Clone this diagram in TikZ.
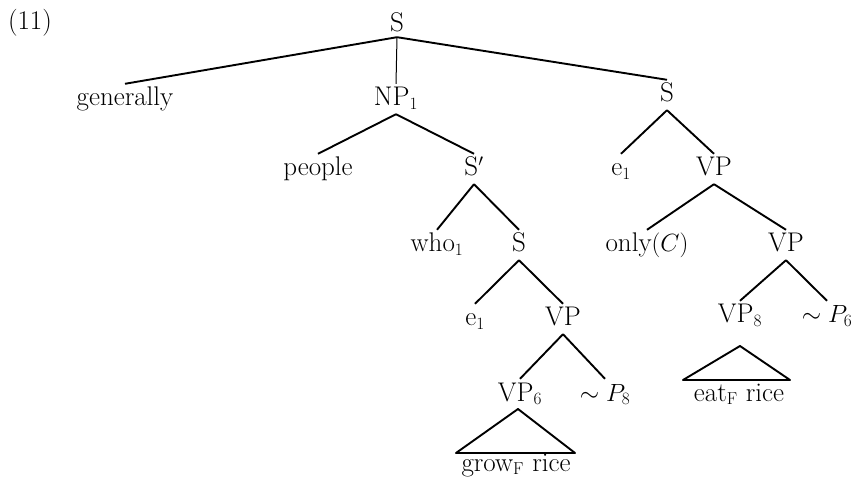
\documentclass[tikz,border=0pt]{standalone}
\usetikzlibrary{calc}
\begin{document}
\begin{tikzpicture}[x=1pt,y=-1pt,
  font=\fontsize{27}{32}\selectfont,
  tn/.style={anchor=base, inner sep=0pt, text height=22pt, text depth=8pt},
  br/.style={line width=1.9pt},
  thinbr/.style={line width=1pt}]
\useasboundingbox (0,0) rectangle (857,478);
% labels
\node[anchor=base, inner sep=0pt] (num) at (30,30) {(11)};
\node[tn, text depth=5pt] (s0) at (397,32) {S};
\node[tn] (gen) at (125,106) {generally};
\node[tn] (np) at (396,106) {NP$_1$};
\node[tn] (sr) at (667,102) {S};
\node[tn] (people) at (318,176) {people};
\node[tn] (sbar) at (474,176) {S$'$};
\node[tn] (e1r) at (621,176) {e$_1$};
\node[tn] (vpr) at (714,176) {VP};
\node[tn] (who) at (437,252) {who$_1$};
\node[tn] (si) at (519,252) {S};
\node[tn] (only) at (647,252) {only$(C)$};
\node[tn] (vp2) at (786,252) {VP};
\node[tn] (e1i) at (475,326) {e$_1$};
\node[tn] (vpi) at (563,326) {VP};
\node[tn] (vp8) at (740,323) {VP$_8$};
\node[tn] (p6) at (827,323) {$\sim P_6$};
\node[tn] (vp6) at (520,401) {VP$_6$};
\node[tn] (p8) at (605,401) {$\sim P_8$};
\node[tn] (eat) at (739,401) {eat$_{\mathrm{F}}$ rice};
\node[tn] (grow) at (516,471) {grow$_{\mathrm{F}}$ rice};
% branches
\draw[br] (s0.south) -- (gen.north);
\draw[thinbr] (s0.south) -- (np.north);
\draw[br] (s0.south) -- (sr.north);
\draw[br] (np.south) -- (people.north);
\draw[br] (np.south) -- (sbar.north);
\draw[br] (sr.south) -- (e1r.north);
\draw[br] (sr.south) -- (vpr.north);
\draw[br] (sbar.south) -- (who.north);
\draw[br] (sbar.south) -- (si.north);
\draw[br] (vpr.south) -- (only.north);
\draw[br] (vpr.south) -- (vp2.north);
\draw[br] (si.south) -- (e1i.north);
\draw[br] (si.south) -- (vpi.north);
\draw[br] (vp2.south) -- (vp8.north);
\draw[br] (vp2.south) -- (p6.north);
\draw[br] (vpi.south) -- (vp6.north);
\draw[br] (vpi.south) -- (p8.north);
% triangles
\coordinate (ta) at (740,346);
\coordinate (tl) at (683,380);
\coordinate (tr) at (790,380);
\draw[br, line join=round] (ta) -- (tl) -- (tr) -- cycle;
\coordinate (ga) at (518,409);
\coordinate (gl) at (456,453);
\coordinate (gr) at (575,453);
\draw[br, line join=round] (ga) -- (gl) -- (gr) -- cycle;
\end{tikzpicture}
\end{document}
